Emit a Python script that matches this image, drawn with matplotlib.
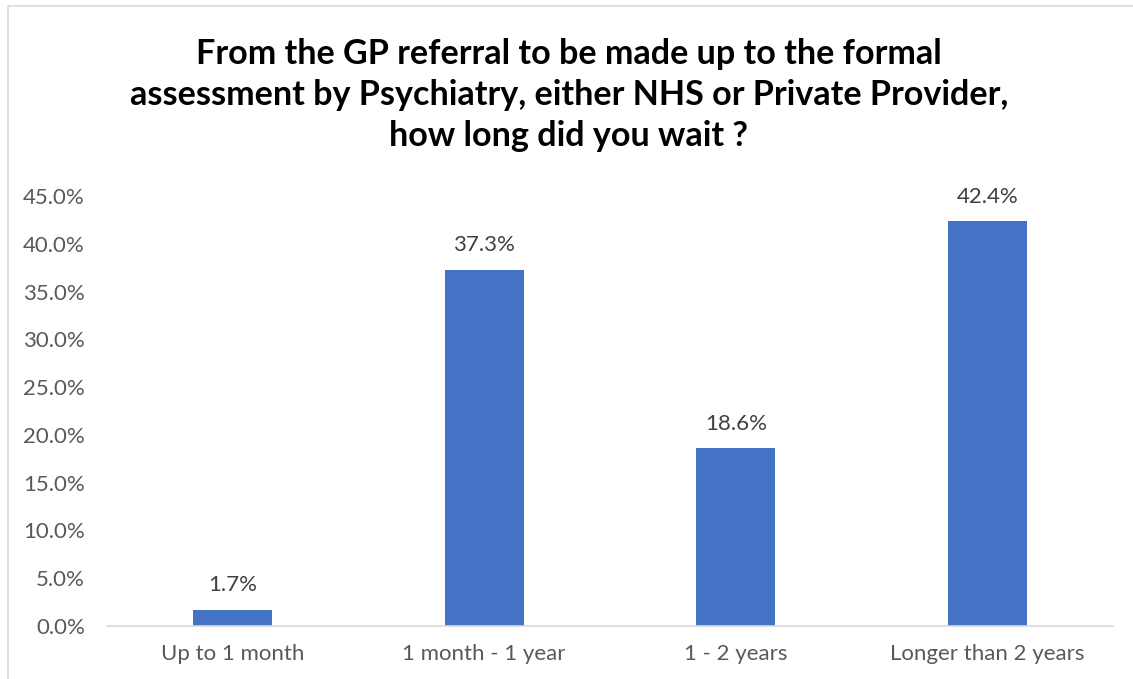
import matplotlib
matplotlib.use('Agg')
import matplotlib.pyplot as plt
from matplotlib.patches import Rectangle
from matplotlib.ticker import FuncFormatter

categories = ['Up to 1 month', '1 month - 1 year', '1 - 2 years', 'Longer than 2 years']
values = [1.7, 37.3, 18.6, 42.4]
yticks = [0, 5, 10, 15, 20, 25, 30, 35, 40, 45]
title = ('From the GP referral to be made up to the formal\n'
         'assessment by Psychiatry, either NHS or Private Provider,\n'
         'how long did you wait ?')

plt.rcParams['font.family'] = ['Lato', 'DejaVu Sans']

fig = plt.figure(figsize=(11.33, 6.79), dpi=100)

# light chart-area border (right and bottom edges fall off the canvas)
fig.patches.append(Rectangle((8 / 1133, -0.05), 1.2, 1 - 6 / 679 + 0.05,
                             transform=fig.transFigure, fill=False,
                             edgecolor='#d9d9d9', linewidth=1.2))

ax = fig.add_axes([107 / 1133, 1 - 626 / 679, (1113 - 107) / 1133, (626 - 196) / 679])
x = range(len(categories))
bars = ax.bar(x, values, width=0.315, color='#4472c4')

for b, v in zip(bars, values):
    ax.text(b.get_x() + b.get_width() / 2, v + 1.5, f'{v:.1f}%',
            ha='center', va='bottom', fontsize=16, color='#404040')

ax.set_xlim(-0.5, len(categories) - 0.5)
ax.set_ylim(0, 45)
ax.set_yticks(yticks)
ax.yaxis.set_major_formatter(FuncFormatter(lambda v, p: f'{v:.1f}%'))
ax.set_xticks(list(x))
ax.set_xticklabels(categories)
ax.tick_params(axis='both', length=0, labelsize=16, colors='#595959')
ax.tick_params(axis='x', pad=13)
ax.tick_params(axis='y', pad=16)

for s in ['top', 'right', 'left']:
    ax.spines[s].set_visible(False)
ax.spines['bottom'].set_color('#d9d9d9')
ax.spines['bottom'].set_linewidth(1.2)

fig.text(0.502, 0.86, title, ha='center', va='center', fontsize=24.6,
         fontweight='bold', color='black', linespacing=1.36)

fig.savefig('out.png', dpi=100)
